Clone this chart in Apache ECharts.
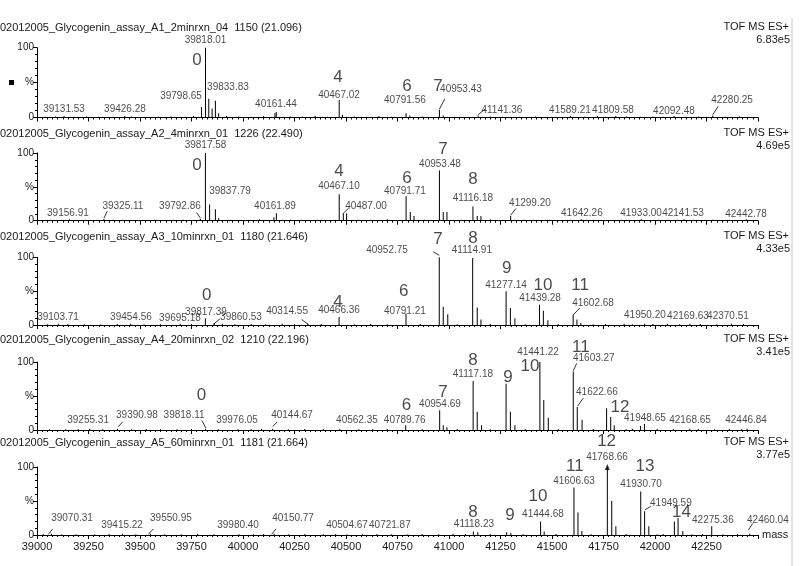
<!DOCTYPE html>
<html>
<head>
<meta charset="utf-8">
<script src="https://cdn.jsdelivr.net/npm/echarts@6/dist/echarts.min.js"></script>
<style>
  html, body { margin: 0; padding: 0; background: #fff; }
  #chart { width: 800px; height: 566px; }
</style>
</head>
<body>
<div id="chart"></div>
<script>
// mass range + axis ticks
var massMin = 39000;
var massMax = 42500;
var massStep = 250;

var runTitles = [
    '02012005_Glycogenin_assay_A1_2minrxn_04  1150 (21.096)',
    '02012005_Glycogenin_assay_A2_4minrxn_01  1226 (22.490)',
    '02012005_Glycogenin_assay_A3_10minrxn_01  1180 (21.646)',
    '02012005_Glycogenin_assay_A4_20minrxn_02  1210 (22.196)',
    '02012005_Glycogenin_assay_A5_60minrxn_01  1181 (21.664)'
];
var runScales = ['6.83e5', '4.69e5', '4.33e5', '3.41e5', '3.77e5'];

// peaks [mass, % intensity]
var peaksA1 = [[39131.53, 2], [39426.28, 2], [39798.65, 15], [39818.01, 100], [39833.83, 27], [39850, 13], [39866, 24], [39882, 6],
    [40155, 6], [40161.44, 8], [40467.02, 25], [40483, 4], [40791.56, 6], [40810, 3], [40953.43, 11], [40972, 3],
    [41141.36, 3], [41589.21, 2], [41809.58, 2], [42092.48, 2], [42280.25, 3]];
var peaksA2 = [[39156.91, 2], [39325.11, 3], [39792.86, 3], [39817.58, 100], [39837.79, 24], [39866, 17], [39882, 4],
    [40150, 5], [40161.89, 11], [40467.10, 39], [40487.00, 11], [40503, 11], [40791.71, 36], [40812, 13], [40830, 7],
    [40953.48, 74], [40972, 13], [40990, 13], [41116.18, 21], [41137, 7], [41155, 7], [41299.20, 7],
    [41642.26, 2], [41933.00, 2], [42141.53, 2], [42442.78, 2]];
var peaksA3 = [[39103.71, 2], [39454.56, 2], [39695.18, 2], [39817.39, 10], [39860.53, 3], [40314.55, 2], [40466.36, 12],
    [40791.21, 17], [40952.75, 100], [40972, 27], [40994, 16], [41114.91, 99], [41137, 26], [41155, 8],
    [41277.14, 50], [41298, 25], [41320, 10], [41439.28, 30], [41458, 21], [41480, 7], [41602.68, 15], [41621, 8], [41640, 3],
    [41950.20, 2], [42169.63, 2], [42370.51, 2]];
var peaksA4 = [[39255.31, 2], [39390.98, 2], [39818.11, 2], [39976.05, 1], [40144.67, 2], [40562.35, 1], [40789.76, 7],
    [40954.69, 29], [40972, 7], [40990, 4], [41117.18, 72], [41137, 27], [41158, 7], [41277, 68], [41298, 27], [41320, 7],
    [41441.22, 100], [41460, 44], [41482, 18], [41603.27, 86], [41622.66, 34], [41646, 15], [41765, 32], [41785, 19], [41802, 7],
    [41930, 6], [41948.65, 9], [42168.65, 2], [42446.84, 2]];
var peaksA5 = [[39070.31, 2], [39415.22, 2], [39550.95, 2], [39980.40, 1], [40150.77, 2], [40504.67, 1], [40721.87, 1],
    [41118.23, 5], [41140, 4], [41280, 4], [41300, 3], [41444.68, 20], [41462, 5], [41606.63, 70], [41626, 33], [41645, 6],
    [41768.66, 100], [41790, 50], [41810, 13], [41930.70, 64], [41949.59, 35], [41970, 13],
    [42094, 20], [42112, 25], [42135, 6], [42275.36, 13], [42460.04, 2]];

// baseline noise sticks
var noiseA1 = [[39040, 1], [39090, 1.5], [39180, 1], [39240, 1.5], [39300, 1], [39370, 1], [39460, 1.5], [39520, 1], [39590, 1],
    [39650, 1.5], [39720, 1], [39760, 2], [39920, 2], [39980, 1.5], [40040, 1], [40100, 2], [40230, 1.5], [40290, 1], [40350, 2],
    [40410, 1], [40540, 1.5], [40600, 1], [40660, 2], [40720, 1], [40870, 1.5], [41030, 1], [41200, 1.5], [41260, 1], [41340, 1],
    [41420, 1.5], [41500, 1], [41660, 1.5], [41720, 2], [41760, 1], [41860, 1.5], [41930, 1], [41990, 1.5], [42040, 1], [42150, 1],
    [42210, 1.5], [42340, 1], [42410, 1.5]];
var noiseA2 = [[39060, 1], [39120, 1.5], [39210, 1], [39280, 1], [39370, 1.5], [39430, 1], [39500, 1], [39570, 1.5], [39640, 1],
    [39710, 1.5], [39760, 1], [39940, 1.5], [40010, 1], [40080, 2], [40230, 1.5], [40310, 1], [40380, 1.5], [40560, 1.5], [40640, 1],
    [40700, 2], [40880, 1.5], [41050, 1], [41200, 2], [41360, 1.5], [41420, 1], [41480, 1.5], [41560, 1], [41700, 1.5], [41780, 1],
    [41860, 1.5], [41990, 1], [42060, 1.5], [42200, 1], [42280, 1.5], [42360, 1]];
var noiseA3 = [[39050, 1], [39150, 1.5], [39230, 1], [39310, 1], [39390, 1.5], [39520, 1], [39600, 1], [39750, 1.5], [39900, 2],
    [39960, 1], [40040, 1.5], [40110, 1], [40190, 2], [40250, 1], [40380, 1.5], [40540, 1], [40620, 1.5], [40700, 1], [40860, 1.5],
    [41040, 1], [41200, 1.5], [41370, 1], [41530, 1.5], [41700, 1], [41760, 1.5], [41850, 2], [41890, 1], [41990, 1.5], [42060, 2],
    [42120, 1], [42220, 1.5], [42300, 1], [42430, 1.5]];
var noiseA4 = [[39060, 1], [39140, 1], [39200, 1.5], [39320, 1], [39460, 1], [39530, 1.5], [39600, 1], [39680, 1], [39750, 1.5],
    [39880, 1], [40040, 1], [40090, 1.5], [40220, 1], [40300, 1.5], [40390, 1], [40470, 1.5], [40630, 1], [40700, 1.5], [40870, 1],
    [41040, 1.5], [41200, 1], [41370, 1.5], [41530, 1], [41700, 1.5], [41860, 1], [41890, 2], [42010, 1.5], [42090, 1], [42210, 1.5],
    [42290, 1], [42360, 1.5], [42420, 1]];
var noiseA5 = [[39030, 1.5], [39120, 1], [39190, 1], [39280, 1], [39350, 1.5], [39480, 1], [39620, 1], [39700, 1], [39780, 1.5],
    [39860, 1], [40050, 1], [40100, 1.5], [40220, 1], [40300, 1.5], [40390, 1], [40450, 1.5], [40580, 1], [40650, 1.5], [40800, 1],
    [40870, 1.5], [40950, 1], [41020, 2], [41080, 1.5], [41200, 1.5], [41360, 1], [41520, 1.5], [41690, 1], [41860, 1.5], [42010, 1],
    [42040, 1.5], [42180, 1], [42230, 1.5], [42330, 1], [42400, 1.5]];

// mass labels [mass, level %, text]
var massLabelsA1 = [[39818, 110, '39818.01'], [39699, 31, '39798.65'], [39927, 44, '39833.83'], [39131, 12, '39131.53'],
    [39427, 12, '39426.28'], [40160, 19, '40161.44'], [40466, 32, '40467.02'], [40786, 25, '40791.56'], [41058, 41, '40953.43'],
    [41257, 11, '41141.36'], [41587, 11, '41589.21'], [41796, 11, '41809.58'], [42092, 9, '42092.48'], [42374, 24, '42280.25']];
var massLabelsA2 = [[39818, 112, '39817.58'], [39937, 44, '39837.79'], [39694, 22, '39792.86'], [39417, 22, '39325.11'],
    [39150, 11, '39156.91'], [40155, 22, '40161.89'], [40466, 51, '40467.10'], [40597, 22, '40487.00'], [40786, 44, '40791.71'],
    [40956, 84, '40953.48'], [41116, 33, '41116.18'], [41393, 26, '41299.20'], [41645, 11, '41642.26'], [41932, 11, '41933.00'],
    [42136, 11, '42141.53'], [42442, 10, '42442.78']];
var massLabelsA3 = [[39820, 19, '39817.39'], [39102, 11, '39103.71'], [39456, 11, '39454.56'], [39694, 10, '39695.18'],
    [39990, 11, '39860.53'], [40214, 20, '40314.55'], [40466, 22, '40466.36'], [40786, 21, '40791.21'], [40699, 111, '40952.75'],
    [41111, 111, '41114.91'], [41277, 59, '41277.14'], [41442, 40, '41439.28'], [41699, 32, '41602.68'], [41951, 14, '41950.20'],
    [42160, 13, '42169.63'], [42354, 13, '42370.51']];
var massLabelsA4 = [[39714, 22, '39818.11'], [39248, 15, '39255.31'], [39485, 22, '39390.98'], [39971, 15, '39976.05'],
    [40238, 22, '40144.67'], [40553, 15, '40562.35'], [40785, 15, '40789.76'], [40956, 38, '40954.69'], [41116, 82, '41117.18'],
    [41432, 115, '41441.22'], [41703, 105, '41603.27'], [41718, 56, '41622.66'], [41951, 18, '41948.65'], [42170, 15, '42168.65'],
    [42442, 14, '42446.84']];
var massLabelsA5 = [[39170, 24, '39070.31'], [39413, 15, '39415.22'], [39650, 24, '39550.95'], [39976, 15, '39980.40'],
    [40243, 24, '40150.77'], [40505, 15, '40504.67'], [40713, 15, '40721.87'], [41121, 16, '41118.23'], [41456, 31, '41444.68'],
    [41607, 79, '41606.63'], [41767, 115, '41768.66'], [41932, 75, '41930.70'], [42077, 46, '41949.59'], [42281, 21, '42275.36'],
    [42548, 21, '42460.04']];

// number of glucose units added [mass, level %, text]
var statesA1 = [[39777, 82, '0'], [40461, 57, '4'], [40796, 44, '6'], [40946, 45, '7']];
var statesA2 = [[39777, 82, '0'], [40466, 73, '4'], [40796, 63, '6'], [40971, 105, '7'], [41116, 61, '8']];
var statesA3 = [[39824, 44, '0'], [40461, 34, '4'], [40780, 50, '6'], [40946, 126, '7'], [41116, 128, '8'], [41280, 84, '9'],
    [41456, 59, '10'], [41636, 59, '11']];
var statesA4 = [[39799, 51, '0'], [40794, 37, '6'], [40971, 56, '7'], [41116, 102, '8'], [41286, 78, '9'], [41393, 93, '10'],
    [41640, 122, '11'], [41830, 34, '12']];
var statesA5 = [[41116, 33, '8'], [41296, 29, '9'], [41432, 57, '10'], [41611, 101, '11'], [41765, 138, '12'], [41951, 101, '13'],
    [42129, 33, '14']];

// leader lines from label to peak [mass1, %1, mass2, %2]
var leadersA1 = [[40953.43, 12, 40980, 27], [41141.36, 4, 41175, 12], [42280.25, 4, 42307, 16]];
var leadersA2 = [[39325.11, 4, 39341, 14], [39792.86, 4, 39775, 12], [40487.00, 11, 40511, 18], [41299.20, 8, 41325, 18]];
var leadersA3 = [[39856, 1, 39888, 9], [40285, 8, 40317, 1], [40924, 108, 40952.75, 103], [41602.68, 15, 41635, 25]];
var leadersA4 = [[39395, 5, 39416, 12], [39800, 14, 39820, 3], [40144, 5, 40166, 12], [41603.27, 87, 41620, 98],
    [41624, 35, 41652, 47]];
var leadersA5 = [[39055, 1, 39076, 9], [39540, 1, 39565, 9], [40139, 1, 40160, 9], [41951, 37, 41979, 42], [42453, 7, 42474, 17]];

var peaks = [peaksA1, peaksA2, peaksA3, peaksA4, peaksA5];
var noise = [noiseA1, noiseA2, noiseA3, noiseA4, noiseA5];
var massLabels = [massLabelsA1, massLabelsA2, massLabelsA3, massLabelsA4, massLabelsA5];
var states = [statesA1, statesA2, statesA3, statesA4, statesA5];
var leaders = [leadersA1, leadersA2, leadersA3, leadersA4, leadersA5];

// panel layout (px)
var panelTop = [47.7, 153, 257.3, 362, 467];
var panelBottom = [117.5, 220.7, 325, 430, 535];
var titleY = [28, 134, 237, 340, 443];
var FONT = '"Liberation Sans", Arial, sans-serif';
var INK = '#1a1a1a';

var chart = echarts.init(document.getElementById('chart'));

var grids = [], xAxes = [], yAxes = [], series = [], graphics = [];

for (var i = 0; i < 5; i++) {
    var last = (i === 4);
    grids.push({ left: 37, right: 42, top: panelTop[i], height: panelBottom[i] - panelTop[i] });
    xAxes.push({
        gridIndex: i, type: 'value', min: massMin, max: massMax, interval: massStep,
        name: last ? 'mass' : '', nameLocation: 'end', nameGap: 4,
        nameTextStyle: { fontFamily: FONT, fontSize: 11, color: INK },
        axisLine: { show: true, lineStyle: { color: '#000', width: 1 } },
        axisTick: { show: true, length: 4, lineStyle: { color: '#000' } },
        minorTick: { show: true, splitNumber: 10, length: 2, lineStyle: { color: '#000' } },
        axisLabel: {
            show: last, fontFamily: FONT, fontSize: 11, color: INK, margin: 6, showMaxLabel: false,
            formatter: function (v) { return String(v); }
        },
        splitLine: { show: false }
    });
    yAxes.push({
        gridIndex: i, type: 'value', min: 0, max: 100, interval: 50,
        axisLine: { show: true, lineStyle: { color: '#000', width: 1 } },
        axisTick: { show: true, length: 4, lineStyle: { color: '#000' } },
        minorTick: { show: true, splitNumber: 5, length: 2, lineStyle: { color: '#000' } },
        axisLabel: {
            fontFamily: FONT, fontSize: 10, color: INK, margin: 3,
            formatter: function (v) { return v === 50 ? '%' : String(v); }
        },
        splitLine: { show: false }
    });

    // sticks
    series.push({
        type: 'bar', xAxisIndex: i, yAxisIndex: i, barWidth: 1, clip: false, silent: true,
        itemStyle: { color: '#000' }, animation: false,
        data: noise[i].concat(peaks[i])
    });
    // mass labels
    series.push({
        type: 'scatter', xAxisIndex: i, yAxisIndex: i, symbolSize: 0, clip: false, silent: true, animation: false,
        data: massLabels[i],
        label: {
            show: true, position: 'inside', fontFamily: FONT, fontSize: 10, color: INK,
            formatter: function (p) { return p.data[2]; }
        }
    });
    // glucose count labels
    series.push({
        type: 'scatter', xAxisIndex: i, yAxisIndex: i, symbolSize: 0, clip: false, silent: true, animation: false,
        data: states[i],
        label: {
            show: true, position: 'inside', fontFamily: FONT, fontSize: 17, color: INK,
            formatter: function (p) { return p.data[2]; }
        }
    });
    // leader lines
    series.push({
        type: 'lines', coordinateSystem: 'cartesian2d', xAxisIndex: i, yAxisIndex: i, clip: false, silent: true,
        animation: false,
        lineStyle: { color: '#000', width: 0.8, opacity: 1 },
        data: leaders[i].map(function (d) { return { coords: [[d[0], d[1]], [d[2], d[3]]] }; })
    });

    graphics.push({
        type: 'text', left: 0, top: titleY[i] - 6,
        style: { text: runTitles[i], font: '11px ' + FONT, fill: INK }
    });
    graphics.push({
        type: 'text', right: 11, top: titleY[i] - 7,
        style: { text: 'TOF MS ES+', font: '11px ' + FONT, fill: INK, textAlign: 'right' }
    });
    graphics.push({
        type: 'text', right: 10, top: titleY[i] + 6,
        style: { text: runScales[i], font: '11px ' + FONT, fill: INK, textAlign: 'right' }
    });
}

// arrow head on the base peak of the last run
var topA5 = peaksA5.reduce(function (a, b) { return b[1] > a[1] ? b : a; });
series.push({
    type: 'scatter', xAxisIndex: 4, yAxisIndex: 4, symbol: 'triangle', symbolSize: [5, 6], clip: false, silent: true,
    animation: false, itemStyle: { color: '#000' }, data: [topA5]
});

graphics.push({ type: 'rect', left: 9, top: 80, shape: { width: 5, height: 5 }, style: { fill: '#000' } });
graphics.push({ type: 'line', shape: { x1: 792, y1: 18, x2: 792, y2: 566 }, style: { stroke: '#c8c8c8', lineWidth: 1 } });

chart.setOption({
    backgroundColor: '#fff',
    animation: false,
    grid: grids,
    xAxis: xAxes,
    yAxis: yAxes,
    series: series,
    graphic: graphics
});
</script>
</body>
</html>
